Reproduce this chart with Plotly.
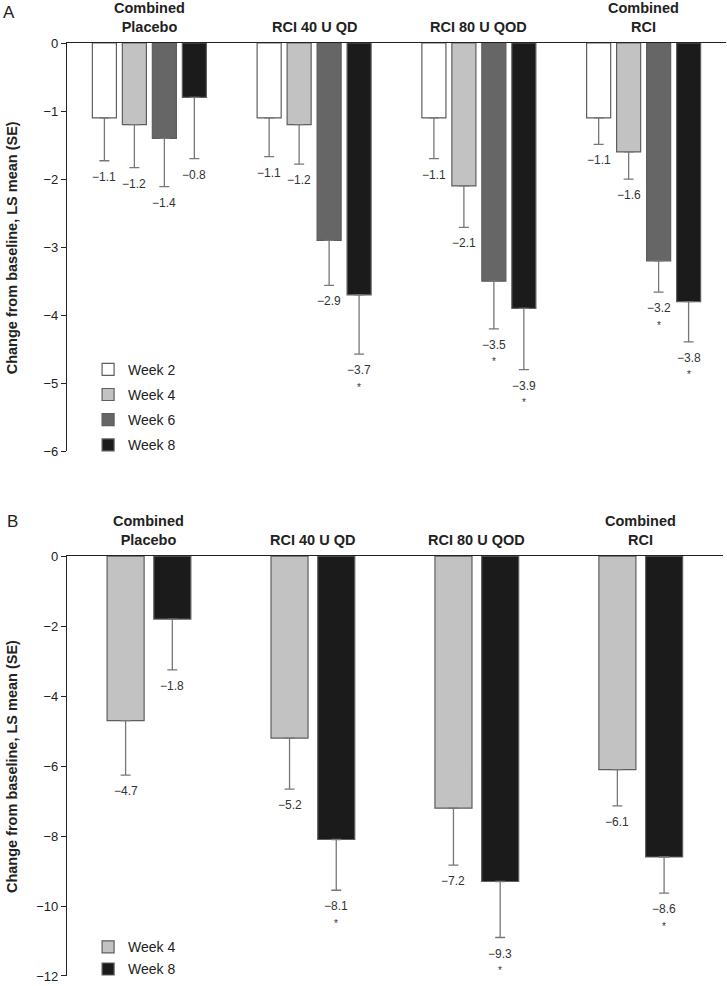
import plotly.graph_objects as go

# ---------------- data ----------------
group_labels = ["Combined<br>Placebo", "RCI 40 U QD", "RCI 80 U QOD", "Combined<br>RCI"]
categories = ["Combined Placebo", "RCI 40 U QD", "RCI 80 U QOD", "Combined RCI"]

# Panel A
a_weeks = ["Week 2", "Week 4", "Week 6", "Week 8"]
a_week2 = [-1.1, -1.1, -1.1, -1.1]
a_week4 = [-1.2, -1.2, -2.1, -1.6]
a_week6 = [-1.4, -2.9, -3.5, -3.2]
a_week8 = [-0.8, -3.7, -3.9, -3.8]
a_se_week2 = [0.63, 0.57, 0.60, 0.39]
a_se_week4 = [0.63, 0.58, 0.61, 0.40]
a_se_week6 = [0.71, 0.66, 0.70, 0.46]
a_se_week8 = [0.90, 0.87, 0.90, 0.59]
a_sig_week2 = [False, False, False, False]
a_sig_week4 = [False, False, False, False]
a_sig_week6 = [False, False, True, True]
a_sig_week8 = [False, True, True, True]

# Panel B
b_weeks = ["Week 4", "Week 8"]
b_week4 = [-4.7, -5.2, -7.2, -6.1]
b_week8 = [-1.8, -8.1, -9.3, -8.6]
b_se_week4 = [1.56, 1.46, 1.63, 1.04]
b_se_week8 = [1.45, 1.45, 1.60, 1.03]
b_sig_week4 = [False, False, False, False]
b_sig_week8 = [False, True, True, True]

a_ticks = [0, -1, -2, -3, -4, -5, -6]
b_ticks = [0, -2, -4, -6, -8, -10, -12]

# ---------------- styles ----------------
FONT = "Liberation Sans, Arial, Helvetica, sans-serif"
col_w2, col_w4, col_w6, col_w8 = "#ffffff", "#c2c2c2", "#666666", "#1b1b1b"
edge = "#5e5e5e"
err_col = "#777777"

a_series = [
    (a_weeks[0], a_week2, a_se_week2, a_sig_week2, col_w2),
    (a_weeks[1], a_week4, a_se_week4, a_sig_week4, col_w4),
    (a_weeks[2], a_week6, a_se_week6, a_sig_week6, col_w6),
    (a_weeks[3], a_week8, a_se_week8, a_sig_week8, col_w8),
]
b_series = [
    (b_weeks[0], b_week4, b_se_week4, b_sig_week4, col_w4),
    (b_weeks[1], b_week8, b_se_week8, b_sig_week8, col_w8),
]

a_width, a_step = 0.146, 0.182
b_width, b_step = 0.226, 0.285

fig = go.Figure()
annotations = []


def fmt(v):
    return f"{v:.1f}".replace("-", "\u2212")


def add_panel(series, width, step, xa, ya, legend, prefix):
    n = len(series)
    for j, (name, vals, se, sig, color) in enumerate(series):
        center = (j - (n - 1) / 2) * step
        fig.add_trace(go.Bar(
            x=categories, y=vals, name=name,
            width=width, offset=center - width / 2,
            marker=dict(color=color, line=dict(color=edge, width=1.2)),
            error_y=dict(type="data", symmetric=False,
                         array=[0] * len(vals), arrayminus=se,
                         color=err_col, thickness=1.3, width=5),
            xaxis=xa, yaxis=ya, legend=legend,
            legendgroup=prefix + name, showlegend=True,
        ))
        for i, (v, s, g) in enumerate(zip(vals, se, sig)):
            annotations.append(dict(
                x=i + center, y=v - s, xref=xa, yref=ya,
                text=fmt(v), showarrow=False, yanchor="middle", yshift=-16,
                font=dict(family=FONT, size=12, color="#333333")))
            if g:
                annotations.append(dict(
                    x=i + center, y=v - s, xref=xa, yref=ya,
                    text="*", showarrow=False, yanchor="middle", yshift=-33,
                    font=dict(family=FONT, size=10, color="#333333")))
    for i, lab in enumerate(group_labels):
        annotations.append(dict(
            x=i, y=0, xref=xa, yref=ya,
            text="<b>" + lab + "</b>", showarrow=False, yanchor="bottom", yshift=6,
            font=dict(family=FONT, size=14.5, color="#222222")))


add_panel(a_series, a_width, a_step, "x", "y", "legend", "A")
add_panel(b_series, b_width, b_step, "x2", "y2", "legend2", "B")

# y-axis titles and panel letters
for txt, yc in [("Change from baseline, LS mean (SE)", 0.781),
                ("Change from baseline, LS mean (SE)", 0.225)]:
    annotations.append(dict(
        x=-0.0835, y=yc, xref="paper", yref="paper", text="<b>" + txt + "</b>",
        textangle=-90, showarrow=False, xanchor="center", yanchor="middle",
        font=dict(family=FONT, size=14.5, color="#222222")))
annotations.append(dict(x=-0.088, y=1.033, xref="paper", yref="paper", text="A",
                        showarrow=False, xanchor="center", yanchor="middle",
                        font=dict(family=FONT, size=17, color="#222222")))
annotations.append(dict(x=-0.082, y=0.487, xref="paper", yref="paper", text="B",
                        showarrow=False, xanchor="center", yanchor="middle",
                        font=dict(family=FONT, size=17, color="#222222")))

xaxis_common = dict(type="category", categoryorder="array", categoryarray=categories,
                    range=[-0.5, 3.5], side="top", showline=True, linecolor="#222222",
                    linewidth=1.2, ticks="", showticklabels=False, showgrid=False,
                    zeroline=False, fixedrange=True)
yaxis_common = dict(showline=True, linecolor="#222222", linewidth=1.2, ticks="outside",
                    ticklen=5, tickcolor="#222222", showgrid=False, zeroline=False,
                    tickfont=dict(family=FONT, size=13, color="#222222"))

fig.update_layout(
    width=727, height=986,
    margin=dict(l=67, r=1, t=43, b=7),
    paper_bgcolor="white", plot_bgcolor="white",
    barmode="overlay",
    font=dict(family=FONT, color="#222222"),
    xaxis=dict(xaxis_common, anchor="y", domain=[0, 1]),
    xaxis2=dict(xaxis_common, anchor="y2", domain=[0, 0.995]),
    yaxis=dict(yaxis_common, anchor="x", domain=[0.5623, 1], range=[-6, 0],
               tickmode="array", tickvals=a_ticks),
    yaxis2=dict(yaxis_common, anchor="x2", domain=[0, 0.4501], range=[-12, 0],
                tickmode="array", tickvals=b_ticks),
    legend=dict(x=0.032, y=0.667, xanchor="left", yanchor="top", bgcolor="rgba(0,0,0,0)",
                font=dict(family=FONT, size=14, color="#222222"), tracegroupgap=4,
                itemclick=False, itemdoubleclick=False),
    legend2=dict(x=0.032, y=0.048, xanchor="left", yanchor="top", bgcolor="rgba(0,0,0,0)",
                 font=dict(family=FONT, size=14, color="#222222"), tracegroupgap=1,
                 itemclick=False, itemdoubleclick=False),
    annotations=annotations,
    showlegend=True,
)

fig.write_html("out.html", config={"displayModeBar": False},
               post_script="document.body.style.margin='0';document.body.style.overflow='hidden';")
